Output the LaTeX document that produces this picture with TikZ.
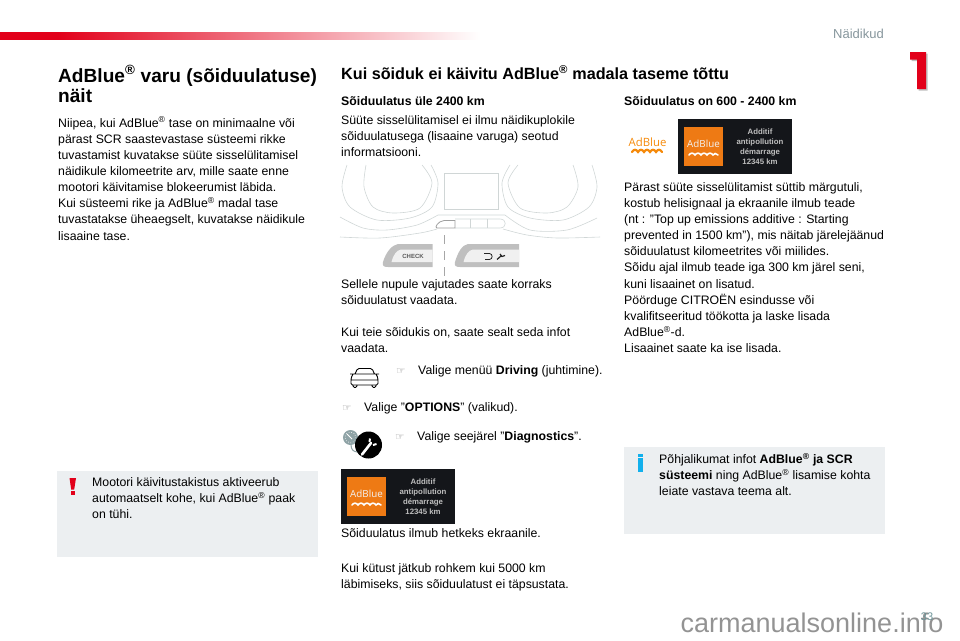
\documentclass[tikz,border=0pt]{standalone}
\usepackage{fontspec}
\setmainfont{Liberation Sans}
\newfontfamily\symbolfont{DejaVu Sans}
\newfontfamily\logofont{Open Sans}
\usetikzlibrary{positioning, calc, shadows}

\definecolor{notegray}{HTML}{ECEFF1}
\definecolor{brandred}{HTML}{E2001A}
\definecolor{adorange}{HTML}{EE7A14}
\definecolor{logoorange}{HTML}{F58A0B}
\definecolor{screenblack}{HTML}{14161A}
\definecolor{infoblue}{HTML}{12B0EC}
\definecolor{headgray}{HTML}{86969C}
\definecolor{dashline}{HTML}{D0D6D6}
\definecolor{gaugegray}{HTML}{8FA3A6}

\pgfdeclarehorizontalshading{barfade}{100bp}{color(0bp)=(brandred); color(31bp)=(brandred); color(75bp)=(white); color(100bp)=(white)}

\newcommand{\regmark}{\textsuperscript{\textregistered}}
\newcommand{\fingermark}{\makebox[22pt][l]{\symbolfont\fontsize{10.5}{10}\selectfont\color{gray!90}☞}}

\tikzset{
    bodytext/.style={anchor=north west, inner sep=0pt, align=left, font=\fontsize{12.3}{16.15}\selectfont},
    subhead/.style={anchor=north west, inner sep=0pt, align=left, font=\fontsize{12.3}{16.15}\selectfont\bfseries},
    dashline/.style={draw=dashline, line width=0.6pt},
    blurtext/.style={inner sep=0pt, align=center, text=gray!50, font=\fontsize{7.8}{10}\selectfont\bfseries},
    wavy/.style={line width=1.6pt, line cap=round},
}

\begin{document}
\begin{tikzpicture}[x=1pt, y=-1pt]
    \useasboundingbox (0,0) rectangle (960,640);

    % Header
    \shade[shading=barfade] (0,32) rectangle (480,39);
    \node[inner sep=0pt, text=headgray, font=\fontsize{13}{15}\selectfont] (chapter) at (858.5,34) {Näidikud};
    \fill[gray!50] (911.5,53.5) -- (927.5,53.5) -- (927.5,90.5) -- (918.5,90.5) -- (918.5,61) -- (911.5,61) -- cycle;
    \fill[brandred] (910,52) -- (926,52) -- (926,89) -- (917,89) -- (917,59.5) -- (910,59.5) -- cycle;

    % Left column
    \node[anchor=north west, inner sep=0pt, align=left, font=\fontsize{19.1}{20.5}\selectfont\bfseries] (lefttitle) at (58,65) {AdBlue\regmark{} varu (sõiduulatuse)\\näit};
    \node[bodytext] (lefttext) at (58,116.5) {Niipea, kui AdBlue\regmark{} tase on minimaalne või\\pärast SCR saastevastase süsteemi rikke\\tuvastamist kuvatakse süüte sisselülitamisel\\näidikule kilomeetrite arv, mille saate enne\\mootori käivitamise blokeerumist läbida.\\Kui süsteemi rike ja AdBlue\regmark{} madal tase\\tuvastatakse üheaegselt, kuvatakse näidikule\\lisaaine tase.};

    % Warning note
    \fill[notegray] (57,471) rectangle (318,557);
    \fill[brandred] (69.5,478) -- (76,478) -- (74.2,489.5) -- (71.2,489.5) -- cycle;
    \fill[brandred] (70.7,491) rectangle (74.7,495);
    \node[bodytext] (warntext) at (92,477.5) {Mootori käivitustakistus aktiveerub\\automaatselt kohe, kui AdBlue\regmark{} paak\\on tühi.};

    % Middle column
    \node[anchor=north west, inner sep=0pt, font=\fontsize{16.2}{18}\selectfont\bfseries] (midtitle) at (341,65) {Kui sõiduk ei käivitu AdBlue\regmark{} madala taseme tõttu};
    \node[subhead] (midhead) at (341,96) {Sõiduulatus üle 2400 km};
    \node[bodytext] (midtext) at (341,115.5) {Süüte sisselülitamisel ei ilmu näidikuplokile\\sõiduulatusega (lisaaine varuga) seotud\\informatsiooni.};

    % Instrument cluster
    \draw[dashline] (444,173) rectangle (498,209);
    \draw[dashline] plot[smooth] coordinates {(347,165) (342,187) (350,207) (377,220) (410,218) (432,207) (438,183) (431,165)};
    \draw[dashline] plot[smooth] coordinates {(366,165) (364,187) (373,207) (393,213) (420,208) (432,183) (422,165)};
    \draw[dashline] plot[smooth] coordinates {(592,165) (597,187) (589,207) (563,220) (530,218) (508,207) (502,183) (510,165)};
    \draw[dashline] plot[smooth] coordinates {(573,165) (578,187) (567,207) (547,213) (520,208) (508,183) (518,165)};
    \draw[dashline] plot[smooth] coordinates {(340,217) (363,228) (387,230) (417,225) (438,215)} -- (505,215) plot[smooth] coordinates {(505,215) (530,230) (567,230) (597,218)};
    \draw[dashline] plot[smooth] coordinates {(340,237) (380,238) (420,233) (437,229)};
    \draw[dashline] plot[smooth] coordinates {(503,229) (527,235) (557,238) (600,237)};
    \draw[dashline] (455,219) -- (500,219) .. controls (507,219) and (507,228) .. (500,228) -- (455,228);
    \draw[dashline] (470,219) -- (470,228) (487,219) -- (487,228);
    \draw[draw=gray!75, line width=0.8pt, fill=white] (455,220.5) -- (455,228) -- (437,228) .. controls (434,228) and (438,221) .. (444,220.5) -- cycle;
    \draw[gray!70, line width=1pt, dash pattern=on 9pt off 7pt] (444,235) -- (444,276);

    % Steering buttons
    \fill[gray!50] (432.5,244) -- (398,244) .. controls (392,245) and (386,252) .. (383,262) .. controls (382,266) and (384,267) .. (388,267) -- (432.5,267) -- cycle;
    \fill[gray!12] (432.5,249.5) -- (401,249.5) .. controls (397,250) and (393,255) .. (391.5,262) -- (432.5,262) -- cycle;
    \node[inner sep=0pt, text=gray!70!black, font=\fontsize{6}{7}\selectfont\bfseries] (checklabel) at (413,256) {CHECK};
    \fill[gray!50] (519,244) -- (468,244) .. controls (462,245) and (458,252) .. (455,262) .. controls (454,266) and (456,267) .. (460,267) -- (519,267) -- cycle;
    \fill[gray!12] (519,249.5) -- (473,249.5) .. controls (469,250) and (465,255) .. (463.5,262) -- (519,262) -- cycle;
    \draw[gray!30!black, line width=0.8pt] (484,253.5) -- (489.5,253.5) .. controls (493,253.5) and (493,259.5) .. (489.5,259.5) -- (485,259.5);
    \draw[gray!30!black, line width=1.2pt] (497,259.5) -- (501,256) (500,254) -- (502,256.5) -- (505,255.5);

    \node[bodytext] (pushtext) at (341,279.5) {Sellele nupule vajutades saate korraks\\sõiduulatust vaadata.};
    \node[bodytext] (cartext) at (341,327) {Kui teie sõidukis on, saate sealt seda infot\\vaadata.};

    % Menu steps
    \draw[black, line width=0.9pt, rounded corners=1.5pt] (355,374) -- (357.5,368.5) -- (372,368.5) -- (374.5,374)
        (350,374) -- (379,374) (353,374) -- (351,378) -- (351,385) -- (378,385) -- (378,378) -- (376,374)
        (351,380) -- (378,380) (353,385) -- (353,387.5) -- (357,387.5) -- (357,385) (372,385) -- (372,387.5) -- (376,387.5) -- (376,385);
    \node[bodytext, anchor=base west] (steptext) at (396,374) {\fingermark Valige menüü \textbf{Driving} (juhtimine).};
    \node[bodytext, anchor=base west] (optiontext) at (342,411) {\fingermark Valige "\textbf{OPTIONS}" (valikud).};
    \node[bodytext, anchor=base west] (diagtext) at (395,440) {\fingermark Valige seejärel "\textbf{Diagnostics}".};

    % Diagnostics icon
    \fill[gaugegray] (350.5,437.5) circle (7.5);
    \draw[white, line width=0.6pt, dotted] (350.5,437.5) circle (5.5);
    \draw[white, line width=0.8pt] (347,434) -- (352,439);
    \draw[gaugegray, line width=1pt] (351,445) .. controls (351,450) and (354,452) .. (358,452);
    \fill[black] (368.5,445) circle (13.5);
    \draw[white, line width=2.6pt, line cap=round] (362,454.5) -- (371,443);
    \draw[white, line width=2pt] (369.5,442) -- (370,438.5) (373,445) -- (376.5,444);

    % Range displays
    \foreach \dx/\dy/\boxname in {341/469/midscreen, 678/119/rightscreen}{
        \begin{scope}[shift={(\dx,\dy)}]
            \fill[screenblack] (0,0) rectangle (114,55);
            \fill[adorange] (6,8) rectangle (45,47);
            \node[inner sep=0pt, text=white!90!gray, font=\logofont\fontsize{9.8}{11}\selectfont] (\boxname logo) at (25.5,25) {AdBlue};
            \draw[white, wavy] (11,36) .. controls (13,33.5) and (15,33.5) .. (17,36) .. controls (19,33.5) and (21,33.5) .. (23,36) .. controls (25,33.5) and (27,33.5) .. (29,36) .. controls (31,33.5) and (33,33.5) .. (35,36) .. controls (36,34) and (38,34) .. (40,36);
            \node[blurtext] (\boxname text) at (82,28) {Additif\\antipollution\\démarrage\\12345 km};
        \end{scope}
    }

    \node[bodytext] (nowtext) at (341,528.5) {Sõiduulatus ilmub hetkeks ekraanile.};
    \node[bodytext] (fueltext) at (341,563.5) {Kui kütust jätkub rohkem kui 5000 km\\läbimiseks, siis sõiduulatust ei täpsustata.};

    % Right column
    \node[subhead] (righthead) at (624,96) {Sõiduulatus on 600 - 2400 km};
    \node[inner sep=0pt, text=logoorange, font=\logofont\fontsize{11.4}{13}\selectfont] (adlogo) at (647.5,142) {AdBlue};
    \draw[logoorange, line width=2.2pt, line cap=round] (632,152) .. controls (634,149) and (636,149) .. (638,152) .. controls (640,149) and (642,149) .. (644,152) .. controls (646,149) and (648,149) .. (650,152) .. controls (652,149) and (654,149) .. (656,152) .. controls (658,149) and (660,149) .. (662,152);
    \node[bodytext] (righttext) at (624,182) {Pärast süüte sisselülitamist süttib märgutuli,\\kostub helisignaal ja ekraanile ilmub teade\\(nt : "Top up emissions additive : Starting\\prevented in 1500 km"), mis näitab järelejäänud\\sõiduulatust kilomeetrites või miilides.\\Sõidu ajal ilmub teade iga 300 km järel seni,\\kuni lisaainet on lisatud.\\Pöörduge CITROËN esindusse või\\kvalifitseeritud töökotta ja laske lisada\\AdBlue\regmark{}-d.\\Lisaainet saate ka ise lisada.};

    % Info note
    \fill[notegray] (624,447) rectangle (885,534);
    \fill[infoblue] (638,453.5) rectangle (643,456.5);
    \fill[infoblue] (638,458) rectangle (643,471.5);
    \node[bodytext] (infotext) at (659,453) {Põhjalikumat infot \textbf{AdBlue\regmark{} ja SCR}\\\textbf{süsteemi} ning AdBlue\regmark{} lisamise kohta\\leiate vastava teema alt.};

    % Footer
    \node[inner sep=0pt, text=gray!85, font=\fontsize{27}{30}\selectfont] (watermark) at (812,623) {carmanualsonline.info};
    \node[inner sep=0pt, text=headgray!80!teal, font=\fontsize{11}{13}\selectfont] (pagenum) at (927,617) {33};
\end{tikzpicture}
\end{document}
